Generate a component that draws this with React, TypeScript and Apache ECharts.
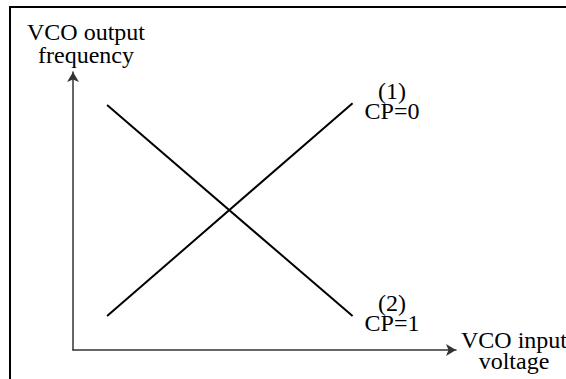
import React, { useEffect, useRef } from "react";
import * as echarts from "echarts";

const voltage = [8.9, 73];
const freqCP0 = [12.2, 88.8];
const freqCP1 = [88.1, 12.2];

const yAxisLabel = ["VCO output", "frequency"];
const xAxisLabel = ["VCO input", "voltage"];
const curve1Label = ["(1)", "CP=0"];
const curve2Label = ["(2)", "CP=1"];

const FONT_FAMILY = '"Liberation Serif", "Times New Roman", serif';

export default function App() {
  const ref = useRef<HTMLDivElement>(null);
  useEffect(() => {
    document.body.style.margin = "0";
    const chart = echarts.init(ref.current!, null, { renderer: "svg" });
    const txt = (lines: string[], x: number, y: number, lineHeight: number) => ({
      type: "text",
      x,
      y,
      style: {
        text: lines.join("\n"),
        fontFamily: FONT_FAMILY,
        fontSize: 24,
        lineHeight,
        fill: "#000",
        textAlign: "center",
        textVerticalAlign: "middle",
      },
      z: 10,
    });
    const axisCommon = {
      type: "value",
      min: 0,
      max: 100,
      axisLine: {
        show: true,
        onZero: false,
        symbol: ["none", "arrow"],
        symbolSize: [9, 10],
        lineStyle: { color: "#333", width: 1.5 },
      },
      axisTick: { show: false },
      axisLabel: { show: false },
      splitLine: { show: false },
    };
    chart.setOption({
      animation: false,
      backgroundColor: "#fff",
      grid: { left: 73, right: 110, top: 72, bottom: 29 },
      xAxis: axisCommon,
      yAxis: axisCommon,
      series: [
        {
          type: "line",
          name: "CP=0",
          data: voltage.map((v, i) => [v, freqCP0[i]]),
          symbol: "none",
          lineStyle: { color: "#000", width: 2 },
        },
        {
          type: "line",
          name: "CP=1",
          data: voltage.map((v, i) => [v, freqCP1[i]]),
          symbol: "none",
          lineStyle: { color: "#000", width: 2 },
        },
      ],
      graphic: [
        {
          type: "rect",
          shape: { x: 10, y: 7, width: 600, height: 400 },
          style: { fill: "none", stroke: "#000", lineWidth: 2 },
          silent: true,
        },
        txt(yAxisLabel, 86, 43, 23),
        txt(curve1Label, 392, 101, 20),
        txt(curve2Label, 392, 313, 20),
        txt(xAxisLabel, 514, 350, 21),
      ],
    });
    return () => chart.dispose();
  }, []);
  return <div ref={ref} style={{ width: 566, height: 379 }} />;
}
